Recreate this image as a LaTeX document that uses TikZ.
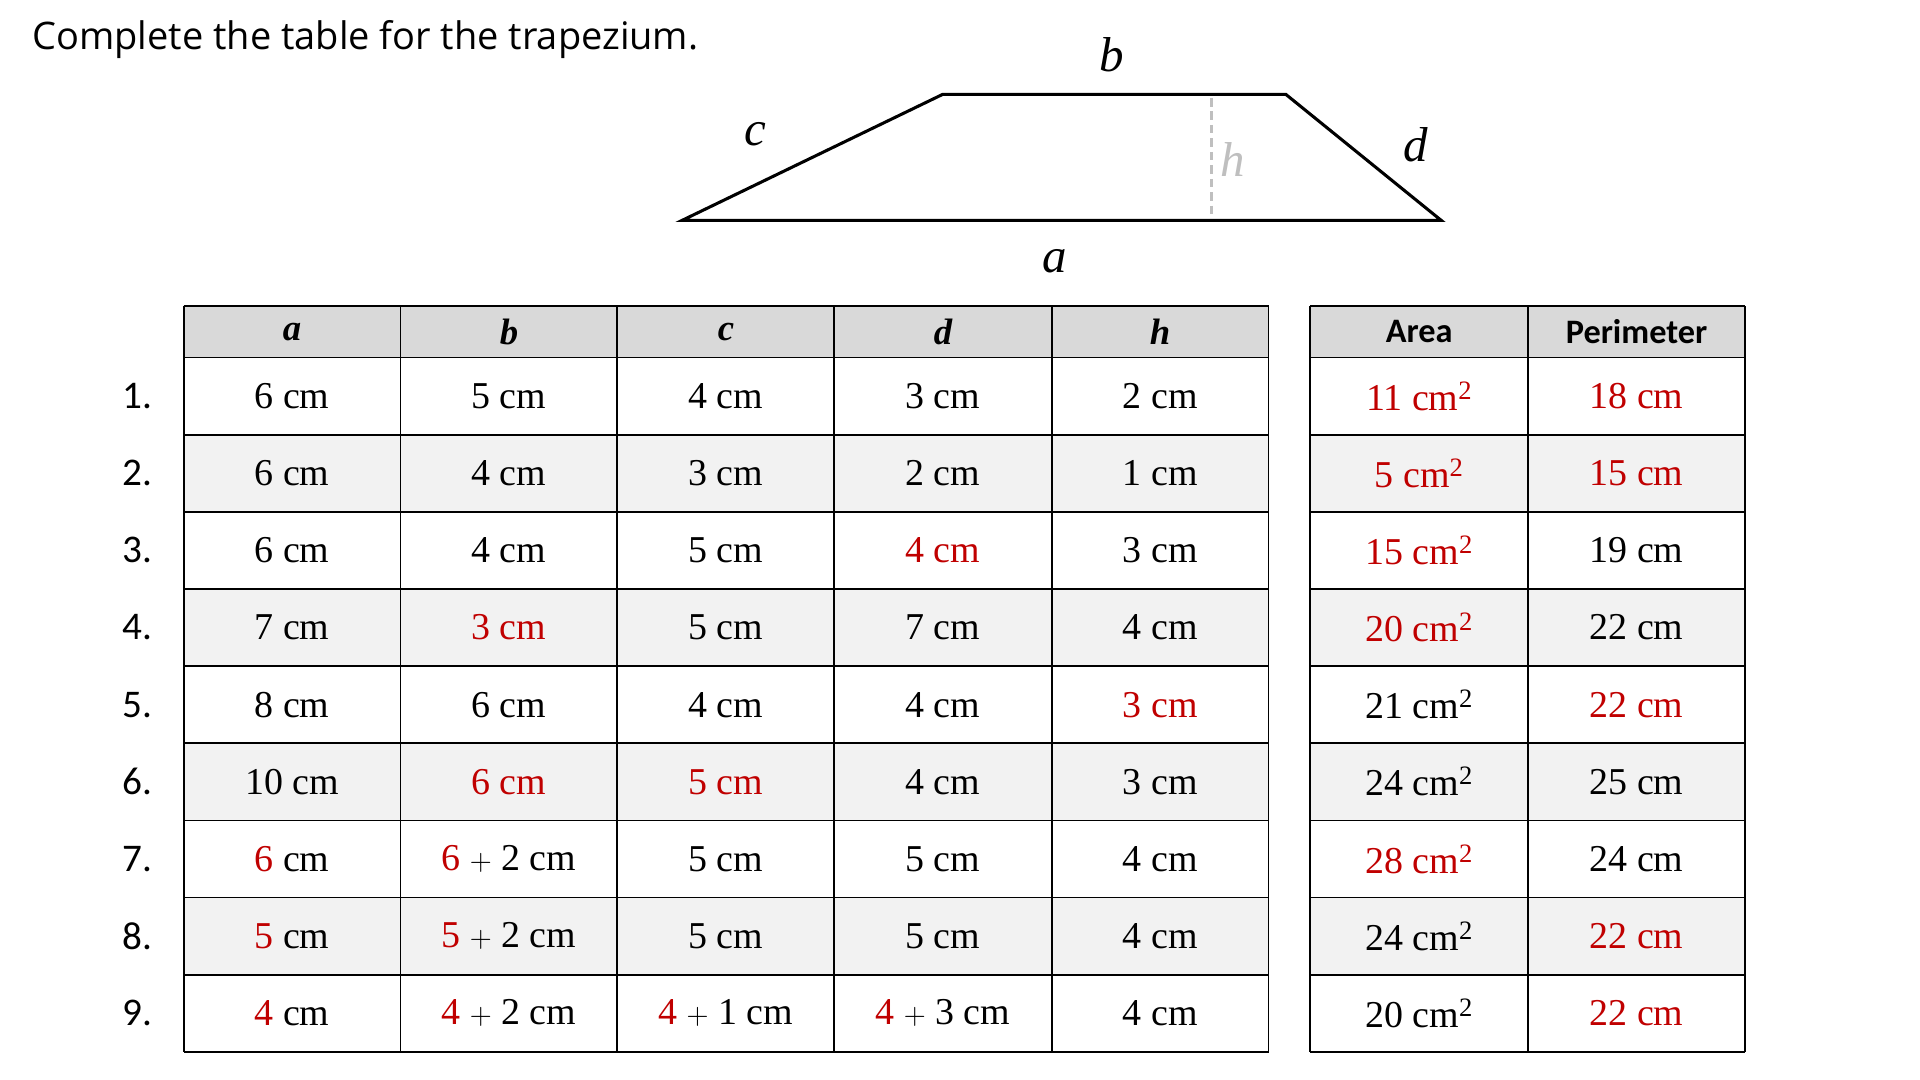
\documentclass[tikz,border=0pt]{standalone}
\usepackage{fontspec}
\setmainfont{Liberation Serif}
\newfontfamily\titlefont{Open Sans}
\newfontfamily\headfont{Carlito}
\usetikzlibrary{positioning}
\definecolor{ansred}{HTML}{C00000}
\definecolor{headgray}{HTML}{D9D9D9}
\definecolor{rowgray}{HTML}{F2F2F2}
\newcommand{\R}[1]{\textcolor{ansred}{#1}}
\newcommand{\sq}{\textsuperscript{2}}
\begin{document}
\begin{tikzpicture}[x=1pt,y=-1pt,
    celltext/.style={font=\fontsize{31}{31}\selectfont, anchor=center},
    headtext/.style={font=\headfont\bfseries\fontsize{28}{28}\selectfont, anchor=center},
    numtext/.style={font=\headfont\fontsize{32}{32}\selectfont, anchor=east},
    sidelabel/.style={font=\itshape\fontsize{40}{40}\selectfont},
    gridline/.style={draw=black, line width=1.4pt}
    ]
    \useasboundingbox (0,0) rectangle (1568,882);
    \node[anchor=west, font=\titlefont\fontsize{31}{31}\selectfont] (title) at (23,32) {Complete the table for the trapezium.};

    % trapezium
    \coordinate (p1) at (557,180);
    \coordinate (p2) at (770,77);
    \coordinate (p3) at (1050,77);
    \coordinate (p4) at (1177,180);
    \draw[line width=2.5pt, line join=miter] (p1) -- (p2) -- (p3) -- (p4) -- cycle;
    \coordinate (htop) at (989,80);
    \coordinate (hbot) at (989,177);
    \draw[gray!50, dash pattern=on 7pt off 4pt, line width=2.5pt] (htop) -- (hbot);
    \node[sidelabel] (lb) at (908,45) {b};
    \node[sidelabel] (lc) at (617,110) {c};
    \node[sidelabel] (ld) at (1156,118) {d};
    \node[sidelabel, gray!50] (lh) at (1007,130) {h};
    \node[sidelabel] (la) at (861,213) {a};

    % row fills
    \fill[headgray] (150,250) rectangle (1036,292);
    \fill[headgray] (1070,250) rectangle (1425,292);
    \foreach \r in {2,4,6,8} {
      \fill[rowgray] (150,{292+63*(\r-1)}) rectangle (1036,{292+63*\r});
      \fill[rowgray] (1070,{292+63*(\r-1)}) rectangle (1425,{292+63*\r});
    }
    % grid
    \foreach \y in {250,292,355,418,481,544,607,670,733,796,859} {
      \draw[gridline] (150,\y) -- (1036,\y);
      \draw[gridline] (1070,\y) -- (1425,\y);
    }
    \foreach \x in {150,327,504,681,859,1036} \draw[gridline] (\x,250) -- (\x,859);
    \foreach \x in {1070,1248,1425} \draw[gridline] (\x,250) -- (\x,859);

    % headers
    \foreach \t [count=\i] in {a,b,c,d,h}
      \node[headtext, font=\bfseries\itshape\fontsize{30}{30}\selectfont] (head-\i) at ({150+177.2*(\i-0.5)},271) {\t};
    \node[headtext] (head-area) at (1159,271) {Area};
    \node[headtext] (head-perim) at (1336.5,271) {Perimeter};

    % body
    \foreach \r/\ca/\cb/\cc/\cd/\ch/\car/\cp in {
      1/6 cm/5 cm/4 cm/3 cm/2 cm/\R{11 cm\sq}/\R{18 cm},
      2/6 cm/4 cm/3 cm/2 cm/1 cm/\R{5 cm\sq}/\R{15 cm},
      3/6 cm/4 cm/5 cm/\R{4 cm}/3 cm/\R{15 cm\sq}/19 cm,
      4/7 cm/\R{3 cm}/5 cm/7 cm/4 cm/\R{20 cm\sq}/22 cm,
      5/8 cm/6 cm/4 cm/4 cm/\R{3 cm}/21 cm\sq/\R{22 cm},
      6/10 cm/\R{6 cm}/\R{5 cm}/4 cm/3 cm/24 cm\sq/25 cm,
      7/\R{6} cm/\R{6} $+$ 2 cm/5 cm/5 cm/4 cm/\R{28 cm\sq}/24 cm,
      8/\R{5} cm/\R{5} $+$ 2 cm/5 cm/5 cm/4 cm/24 cm\sq/\R{22 cm},
      9/\R{4} cm/\R{4} $+$ 2 cm/\R{4} $+$ 1 cm/\R{4} $+$ 3 cm/4 cm/20 cm\sq/\R{22 cm}} {
      \pgfmathsetmacro{\yc}{292+63*(\r-0.5)}
      \node[numtext] (num-\r) at (128,\yc) {\r.};
      \node[celltext] (cell-\r-a) at (238.5,\yc) {\ca};
      \node[celltext] (cell-\r-b) at (415.5,\yc) {\cb};
      \node[celltext] (cell-\r-c) at (592.5,\yc) {\cc};
      \node[celltext] (cell-\r-d) at (770,\yc) {\cd};
      \node[celltext] (cell-\r-h) at (947.5,\yc) {\ch};
      \node[celltext] (cell-\r-area) at (1159,\yc) {\car};
      \node[celltext] (cell-\r-perim) at (1336.5,\yc) {\cp};
    }
  \end{tikzpicture}
\end{document}
